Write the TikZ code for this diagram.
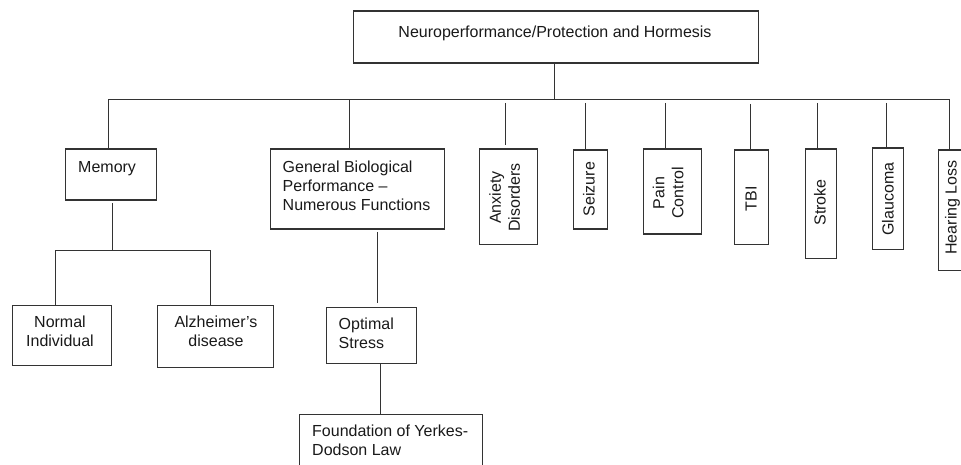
\documentclass[tikz,border=0pt]{standalone}
\usepackage{fontspec}
\setmainfont{Liberation Sans}
\usetikzlibrary{calc}
\newcommand\mylinesl[1]{\begin{tabular}[t]{@{}l@{}}#1\end{tabular}}
\newcommand\mylinesc[1]{\begin{tabular}[t]{@{}c@{}}#1\end{tabular}}
\begin{document}
\begin{tikzpicture}[x=1pt,y=-1pt,
  box/.style={draw=black!80, line width=1.3pt, inner sep=0pt, anchor=north west},
  conn/.style={draw=black!80, line width=1.3pt},
  txt/.style={inner sep=0pt, text=black!90, font=\fontsize{16}{19}\selectfont},
  vtxt/.style={txt, rotate=90, anchor=center}]
\useasboundingbox (0,0) rectangle (961,465);
\clip (0,0) rectangle (961,465);

% boxes
\node[box, minimum width=405pt, minimum height=52pt] (top) at (352.5,10.5) {};
\node[box, minimum width=91pt, minimum height=51pt] (mem) at (64.5,148.5) {};
\node[box, minimum width=174pt, minimum height=80pt] (gbp) at (269.5,148.5) {};
\node[box, minimum width=58pt, minimum height=95pt] (anx) at (478.5,148.5) {};
\node[box, minimum width=34pt, minimum height=79pt] (sei) at (572.5,149.5) {};
\node[box, minimum width=58pt, minimum height=85pt] (pain) at (642.5,148.5) {};
\node[box, minimum width=34pt, minimum height=94pt] (tbi) at (733.5,149.5) {};
\node[box, minimum width=31pt, minimum height=109pt] (str) at (804.5,148.5) {};
\node[box, minimum width=31pt, minimum height=101pt] (gla) at (871.5,147.5) {};
\node[box, minimum width=30pt, minimum height=120pt] (hear) at (937.5,149.5) {};
\node[box, minimum width=99pt, minimum height=60pt] (norm) at (11.5,304.5) {};
\node[box, minimum width=116pt, minimum height=62pt] (alz) at (156.5,304.5) {};
\node[box, minimum width=90pt, minimum height=56pt] (opt) at (325.5,306.5) {};
\node[box, minimum width=183pt, minimum height=80pt] (found) at (298.5,413.5) {};

% texts
\node[txt, anchor=base] (topt) at (555,38) {Neuroperformance/Protection and Hormesis};
\node[txt, anchor=base west] (memt) at (78,172.7) {Memory};
\node[txt, anchor=base west] (gbpt) at (282.5,172.7) {\mylinesl{General Biological\\Performance –\\Numerous Functions}};
\node[txt, anchor=base] (normt) at (60,327.3) {\mylinesc{Normal\\Individual}};
\node[txt, anchor=base] (alzt) at (216,327.3) {\mylinesc{Alzheimer’s\\disease}};
\node[txt, anchor=base west] (optt) at (338.5,329.3) {\mylinesl{Optimal\\Stress}};
\node[txt, anchor=base west] (foundt) at (312,436.5) {\mylinesl{Foundation of Yerkes-\\Dodson Law}};
\node[vtxt] (anxt) at (506.5,197.5) {\mylinesc{Anxiety\\Disorders}};
\node[vtxt] (seit) at (589,189) {Seizure};
\node[vtxt] (paint) at (670,193) {\mylinesc{Pain\\Control}};
\node[vtxt] (tbit) at (751,199) {TBI};
\node[vtxt] (strt) at (820,202.5) {Stroke};
\node[vtxt] (glat) at (888,199) {Glaucoma};
\node[vtxt] (heart) at (952.5,207.5) {Hearing Loss};

% connectors
\coordinate (bus-t) at (554.5,99.5);
\coordinate (bus-l) at (108.5,99.5);
\coordinate (bus-r) at (949.5,99.5);
\coordinate (bus-g) at (349.5,99.5);
\coordinate (bus-anx) at (505.5,99.5);
\coordinate (bus-sei) at (585.5,99.5);
\coordinate (bus-pain) at (665.5,99.5);
\coordinate (bus-tbi) at (750.5,99.5);
\coordinate (bus-str) at (817.5,99.5);
\coordinate (bus-gla) at (886.5,99.5);

\draw[conn] (top.south -| bus-t) -- (bus-t);
\draw[conn] (mem.north -| bus-l) -- (bus-l) -- (bus-r) -- (hear.north -| bus-r);
\draw[conn] (bus-g) -- (gbp.north -| bus-g);
\draw[conn, shorten <=3.5pt, shorten >=3.5pt] (bus-anx) -- (anx.north -| bus-anx);
\draw[conn, shorten <=3.5pt, shorten >=-1pt] (bus-sei) -- (sei.north -| bus-sei);
\draw[conn, shorten <=3.5pt] (bus-pain) -- (pain.north -| bus-pain);
\draw[conn, shorten <=4.5pt] (bus-tbi) -- (tbi.north -| bus-tbi);
\draw[conn, shorten <=3.5pt] (bus-str) -- (str.north -| bus-str);
\draw[conn, shorten <=3.5pt] (bus-gla) -- (gla.north -| bus-gla);

\coordinate (m-split) at (112.5,250.5);
\coordinate (j-norm) at (55.5,250.5);
\coordinate (j-alz) at (210.5,250.5);
\draw[conn, shorten <=2.5pt] (mem.south -| m-split) -- (m-split);
\draw[conn] (norm.north -| j-norm) -- (j-norm) -- (j-alz) -- (alz.north -| j-alz);

\coordinate (x-gbp) at (377.5,0);
\coordinate (x-opt) at (380.5,0);
\draw[conn, shorten <=2pt, shorten >=3.5pt] (gbp.south -| x-gbp) -- (opt.north -| x-gbp);
\draw[conn] (opt.south -| x-opt) -- (found.north -| x-opt);
\end{tikzpicture}
\end{document}
